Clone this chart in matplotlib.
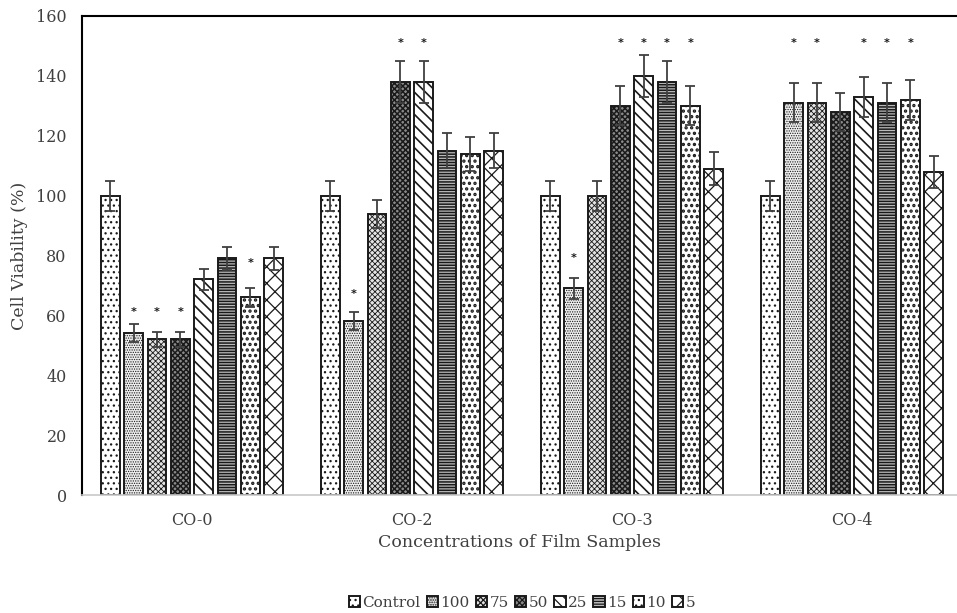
import numpy as np
import matplotlib
matplotlib.use('Agg')
import matplotlib.pyplot as plt

# Cell viability per film sample and concentration
grupos = ['CO-0', 'CO-2', 'CO-3', 'CO-4']
concentracoes = ['Control', '100', '75', '50', '25', '15', '10', '5']

viab_co0 = [100, 54, 52, 52, 72, 79, 66, 79]
viab_co2 = [100, 58, 94, 138, 138, 115, 114, 115]
viab_co3 = [100, 69, 100, 130, 140, 138, 130, 109]
viab_co4 = [100, 131, 131, 128, 133, 131, 132, 108]

erro_co0 = [5, 3, 2.5, 2.5, 3.5, 4, 3.3, 4]
erro_co2 = [5, 3, 4.7, 7, 7, 5.8, 5.7, 5.8]
erro_co3 = [5, 3.5, 5, 6.5, 7, 7, 6.5, 5.5]
erro_co4 = [5, 6.5, 6.5, 6.4, 6.6, 6.5, 6.6, 5.4]

# significance marks: (group, concentration, height)
estrelas = [
    ('CO-0', '100', 61), ('CO-0', '75', 61), ('CO-0', '50', 61), ('CO-0', '10', 77.5),
    ('CO-2', '100', 67), ('CO-2', '50', 151), ('CO-2', '25', 151),
    ('CO-3', '100', 79), ('CO-3', '50', 151), ('CO-3', '25', 151), ('CO-3', '15', 151), ('CO-3', '10', 151),
    ('CO-4', '100', 151), ('CO-4', '75', 151), ('CO-4', '25', 151), ('CO-4', '15', 151), ('CO-4', '10', 151),
]

viab = np.array([viab_co0, viab_co2, viab_co3, viab_co4])
erro = np.array([erro_co0, erro_co2, erro_co3, erro_co4])

hachuras = ['...', '.......', 'xxxxxx', 'xxxxxx', '\\\\\\', '------', '...', 'xx']
hatch_lw = [0.9, 0.6, 0.6, 1.1, 1.2, 1.1, 1.6, 0.9]
fundos = ['white', '#eeeeee', '#e4e4e4', '#8a8a8a', 'white', '#bbbbbb', 'white', 'white']

plt.rcParams['font.family'] = 'DejaVu Serif'
plt.rcParams['hatch.color'] = 'black'
cinza = '#404040'

fig = plt.figure(figsize=(9.57, 6.13), dpi=100)
ax = fig.add_axes([82 / 957, 1 - 495 / 613, 1 - 82 / 957, (495 - 16) / 613])

x = np.arange(len(grupos))
passo = 0.106
largura = 0.086
n = len(concentracoes)

handles = []
for i, conc in enumerate(concentracoes):
    pos = x + (i - (n - 1) / 2) * passo
    plt.rcParams['hatch.linewidth'] = hatch_lw[i]
    barras = ax.bar(pos, viab[:, i], width=largura, color=fundos[i], edgecolor='#1a1a1a',
                    linewidth=1.4, hatch=hachuras[i], label=conc, zorder=2)
    for b in barras:
        if hasattr(b, 'set_hatch_linewidth'):
            b.set_hatch_linewidth(hatch_lw[i])
    ax.errorbar(pos, viab[:, i], yerr=erro[:, i], fmt='none', ecolor=cinza,
                elinewidth=1.3, capsize=3.5, capthick=1.3, zorder=3)
    handles.append(barras)

for g, c, h in estrelas:
    px = grupos.index(g) + (concentracoes.index(c) - (n - 1) / 2) * passo
    ax.text(px, h, '*', ha='center', va='center', fontsize=8, fontweight='bold',
            color='#1a1a1a', family='DejaVu Sans')

ax.set_xlim(-0.5, -0.5 + 875 / 220)
ax.set_ylim(0, 160)
ax.set_yticks(range(0, 161, 20))
ax.set_xticks(x)
ax.set_xticklabels(grupos)
ax.tick_params(axis='both', length=0, labelsize=11.5, colors=cinza)
ax.tick_params(axis='x', pad=12)
ax.tick_params(axis='y', pad=11)

ax.spines['right'].set_visible(False)
ax.spines['top'].set_linewidth(1.5)
ax.spines['left'].set_linewidth(1.5)
ax.spines['bottom'].set_color('#c8c8c8')
ax.spines['bottom'].set_linewidth(1.2)

ax.set_ylabel('Cell Viability (%)', fontsize=12.5, color=cinza, labelpad=6)
ax.set_xlabel('Concentrations of Film Samples', fontsize=12.5, color=cinza, labelpad=4)

fig.legend(handles=handles, labels=concentracoes, loc='center',
           bbox_to_anchor=(522 / 957, 1 - 603 / 613), ncol=8, frameon=False,
           fontsize=11, handlelength=0.75, handleheight=0.75, handletextpad=0.15,
           columnspacing=0.4, labelcolor=cinza)

fig.savefig('out.png', dpi=100)
